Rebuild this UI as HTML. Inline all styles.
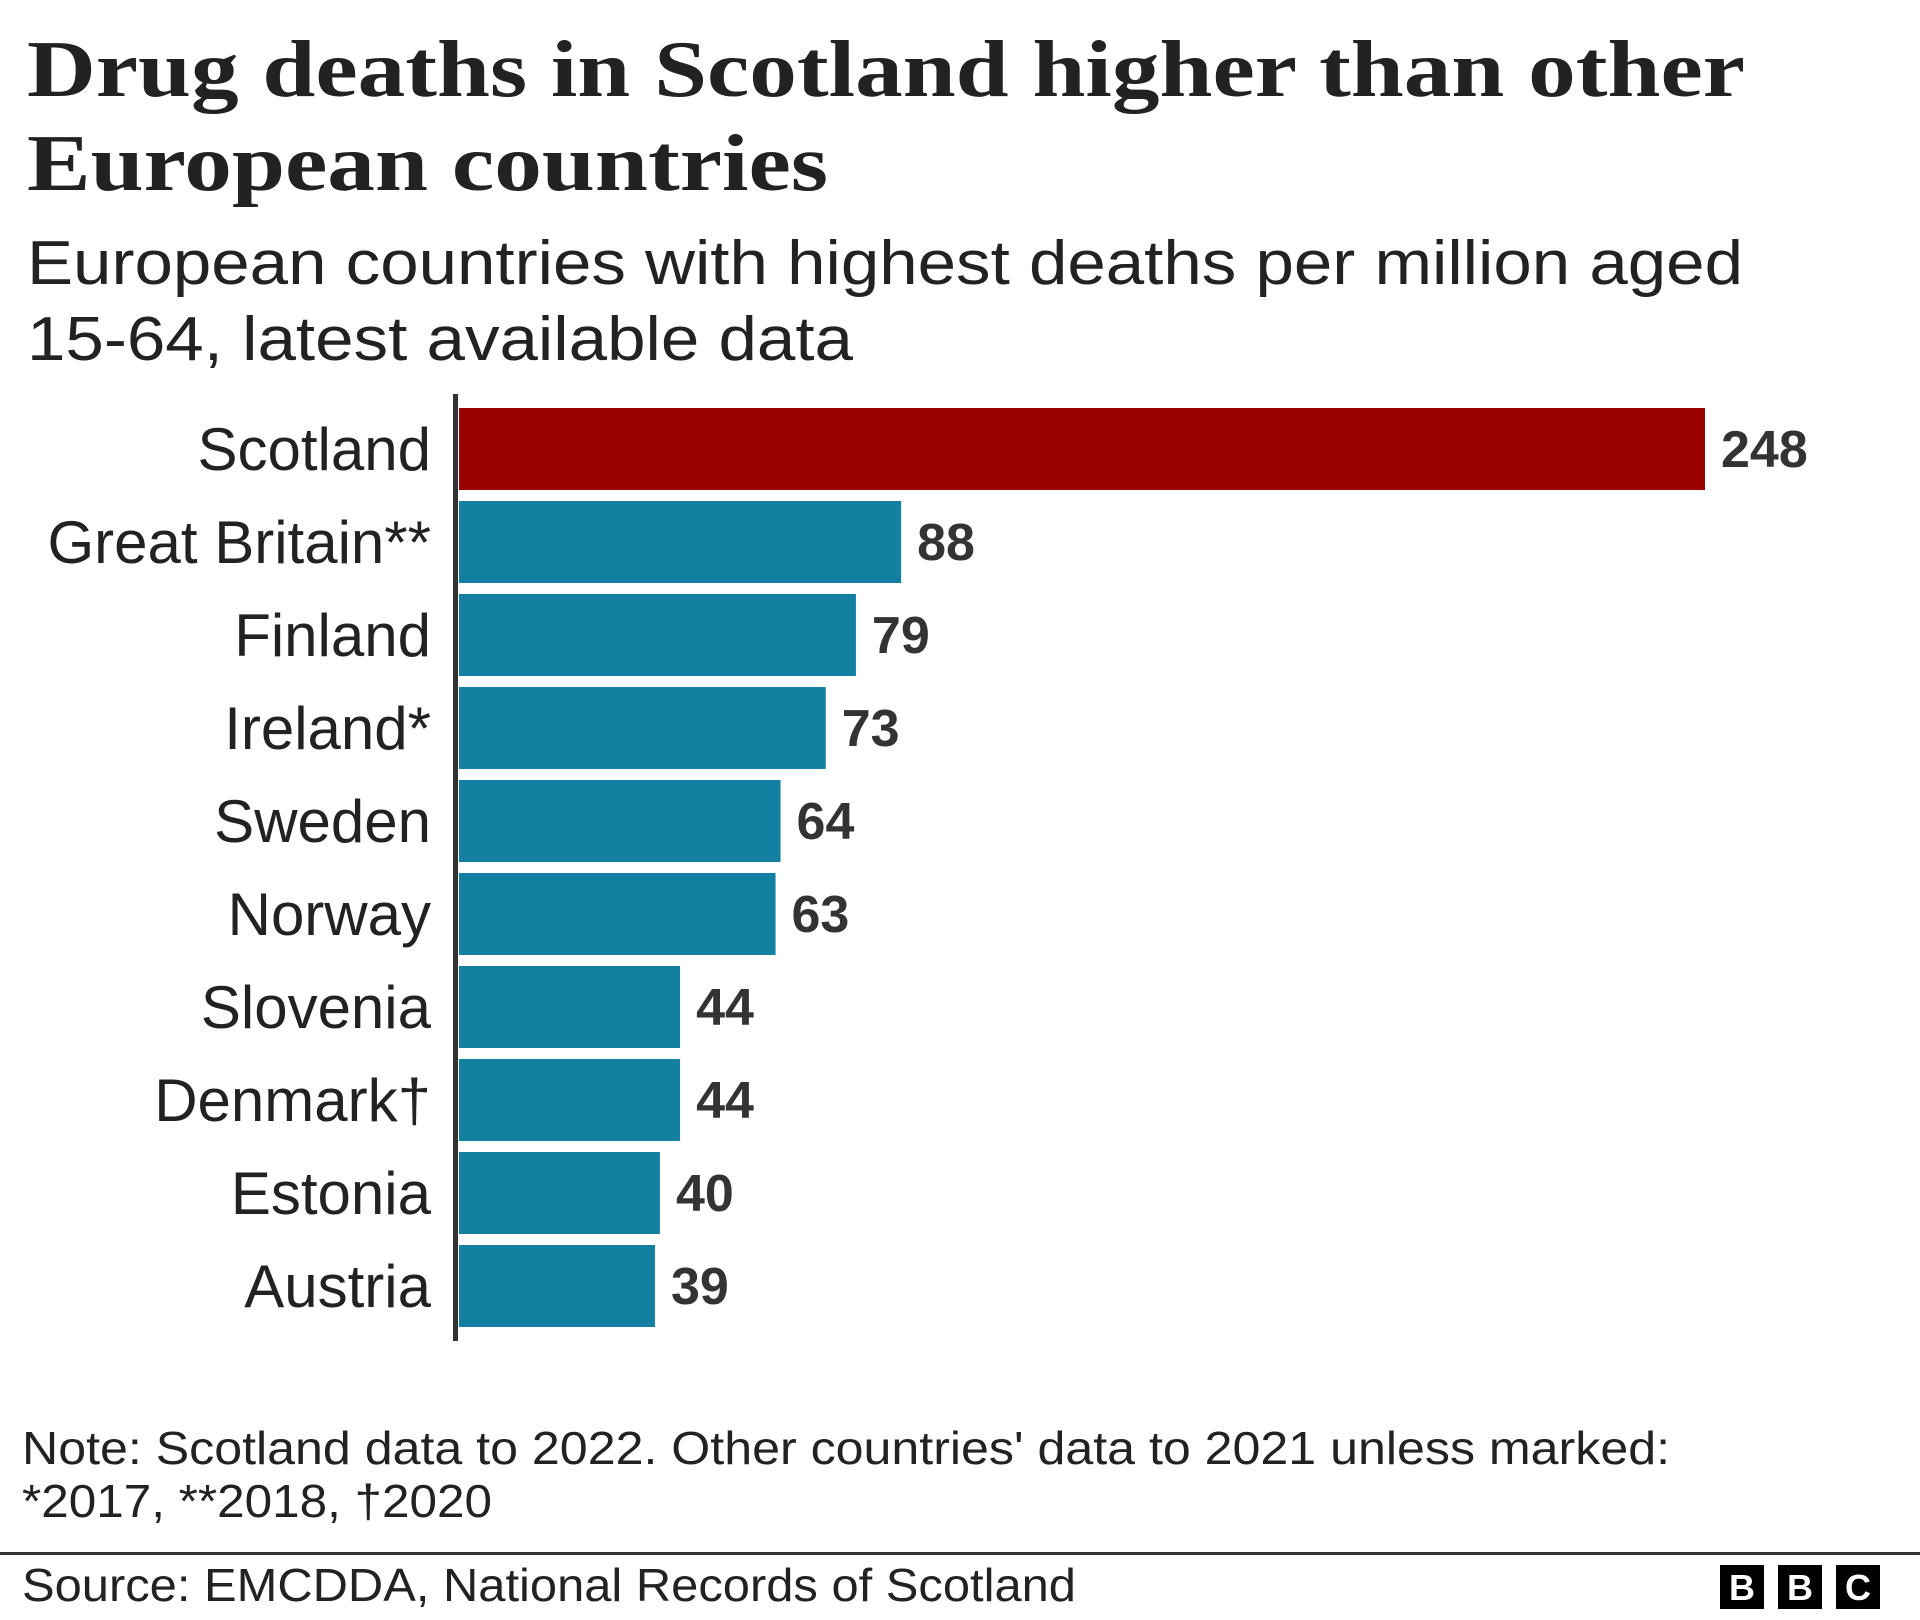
<!DOCTYPE html>
<html><head><meta charset="utf-8"><style>
html,body{margin:0;padding:0;background:#fff;}
svg{display:block;}
</style></head><body>
<svg id="chart" width="1920" height="1620" viewBox="0 0 1920 1620" xmlns="http://www.w3.org/2000/svg" font-family="'Liberation Sans', sans-serif">
<text x="27" y="96" font-family="'Liberation Serif', serif" font-weight="bold" font-size="80" fill="#222" textLength="1718" lengthAdjust="spacingAndGlyphs">Drug deaths in Scotland higher than other</text>
<text x="27" y="190" font-family="'Liberation Serif', serif" font-weight="bold" font-size="80" fill="#222" textLength="801" lengthAdjust="spacingAndGlyphs">European countries</text>
<text x="27" y="284" font-size="62" fill="#222" textLength="1716" lengthAdjust="spacingAndGlyphs">European countries with highest deaths per million aged</text>
<text x="27" y="360" font-size="62" fill="#222" textLength="826" lengthAdjust="spacingAndGlyphs">15-64, latest available data</text>
<g id="bars"></g>
<rect x="453" y="394" width="5" height="947" fill="#333"/>
<text x="22" y="1464" font-size="46" fill="#222" textLength="1648" lengthAdjust="spacingAndGlyphs">Note: Scotland data to 2022. Other countries' data to 2021 unless marked:</text>
<text x="22" y="1517" font-size="46" fill="#222" textLength="470" lengthAdjust="spacingAndGlyphs">*2017, **2018, †2020</text>
<rect x="0" y="1552" width="1920" height="3" fill="#333"/>
<text x="22" y="1601" font-size="46" fill="#222" textLength="1054" lengthAdjust="spacingAndGlyphs">Source: EMCDDA, National Records of Scotland</text>
<g font-weight="bold" font-size="36" fill="#fff" text-anchor="middle">
<rect x="1720" y="1565" width="44" height="44" fill="#000"/><text x="1742" y="1600">B</text>
<rect x="1778" y="1565" width="44" height="44" fill="#000"/><text x="1800" y="1600">B</text>
<rect x="1836" y="1565" width="44" height="44" fill="#000"/><text x="1858" y="1600">C</text>
</g>
</svg>
<script>
const categories = ["Scotland","Great Britain**","Finland","Ireland*","Sweden","Norway","Slovenia","Denmark†","Estonia","Austria"];
const values = [248,88,79,73,64,63,44,44,40,39];
const highlight = ["Scotland"];

const NS = "http://www.w3.org/2000/svg";
const x0 = 459, xMax = 1705, vMax = 248;
const xScale = v => x0 + (v / vMax) * (xMax - x0);
const yTop = 408, pitch = 93, barH = 82;
const yScale = i => yTop + i * pitch;
const g = document.getElementById('bars');
categories.forEach((c, i) => {
  const y = yScale(i);
  const r = document.createElementNS(NS, 'rect');
  
  
  r.setAttribute('x', x0);
  r.setAttribute('y', y);
  r.setAttribute('width', xScale(values[i]) - x0);
  r.setAttribute('height', barH);
  r.setAttribute('fill', highlight.includes(c) ? '#990000' : '#1380A1');
  g.appendChild(r);
  const lab = document.createElementNS(NS, 'text');
  
  
  lab.setAttribute('x', 431);
  lab.setAttribute('y', y + barH / 2 + 21);
  lab.setAttribute('text-anchor', 'end');
  lab.setAttribute('font-size', '60');
  lab.setAttribute('fill', '#222');
  lab.textContent = c;
  g.appendChild(lab);
  const val = document.createElementNS(NS, 'text');
  
  
  val.setAttribute('x', xScale(values[i]) + 16);
  val.setAttribute('y', y + barH / 2 + 18);
  val.setAttribute('font-size', '52');
  val.setAttribute('font-weight', 'bold');
  val.setAttribute('fill', '#333');
  val.textContent = values[i];
  g.appendChild(val);
});
</script>
</body></html>
